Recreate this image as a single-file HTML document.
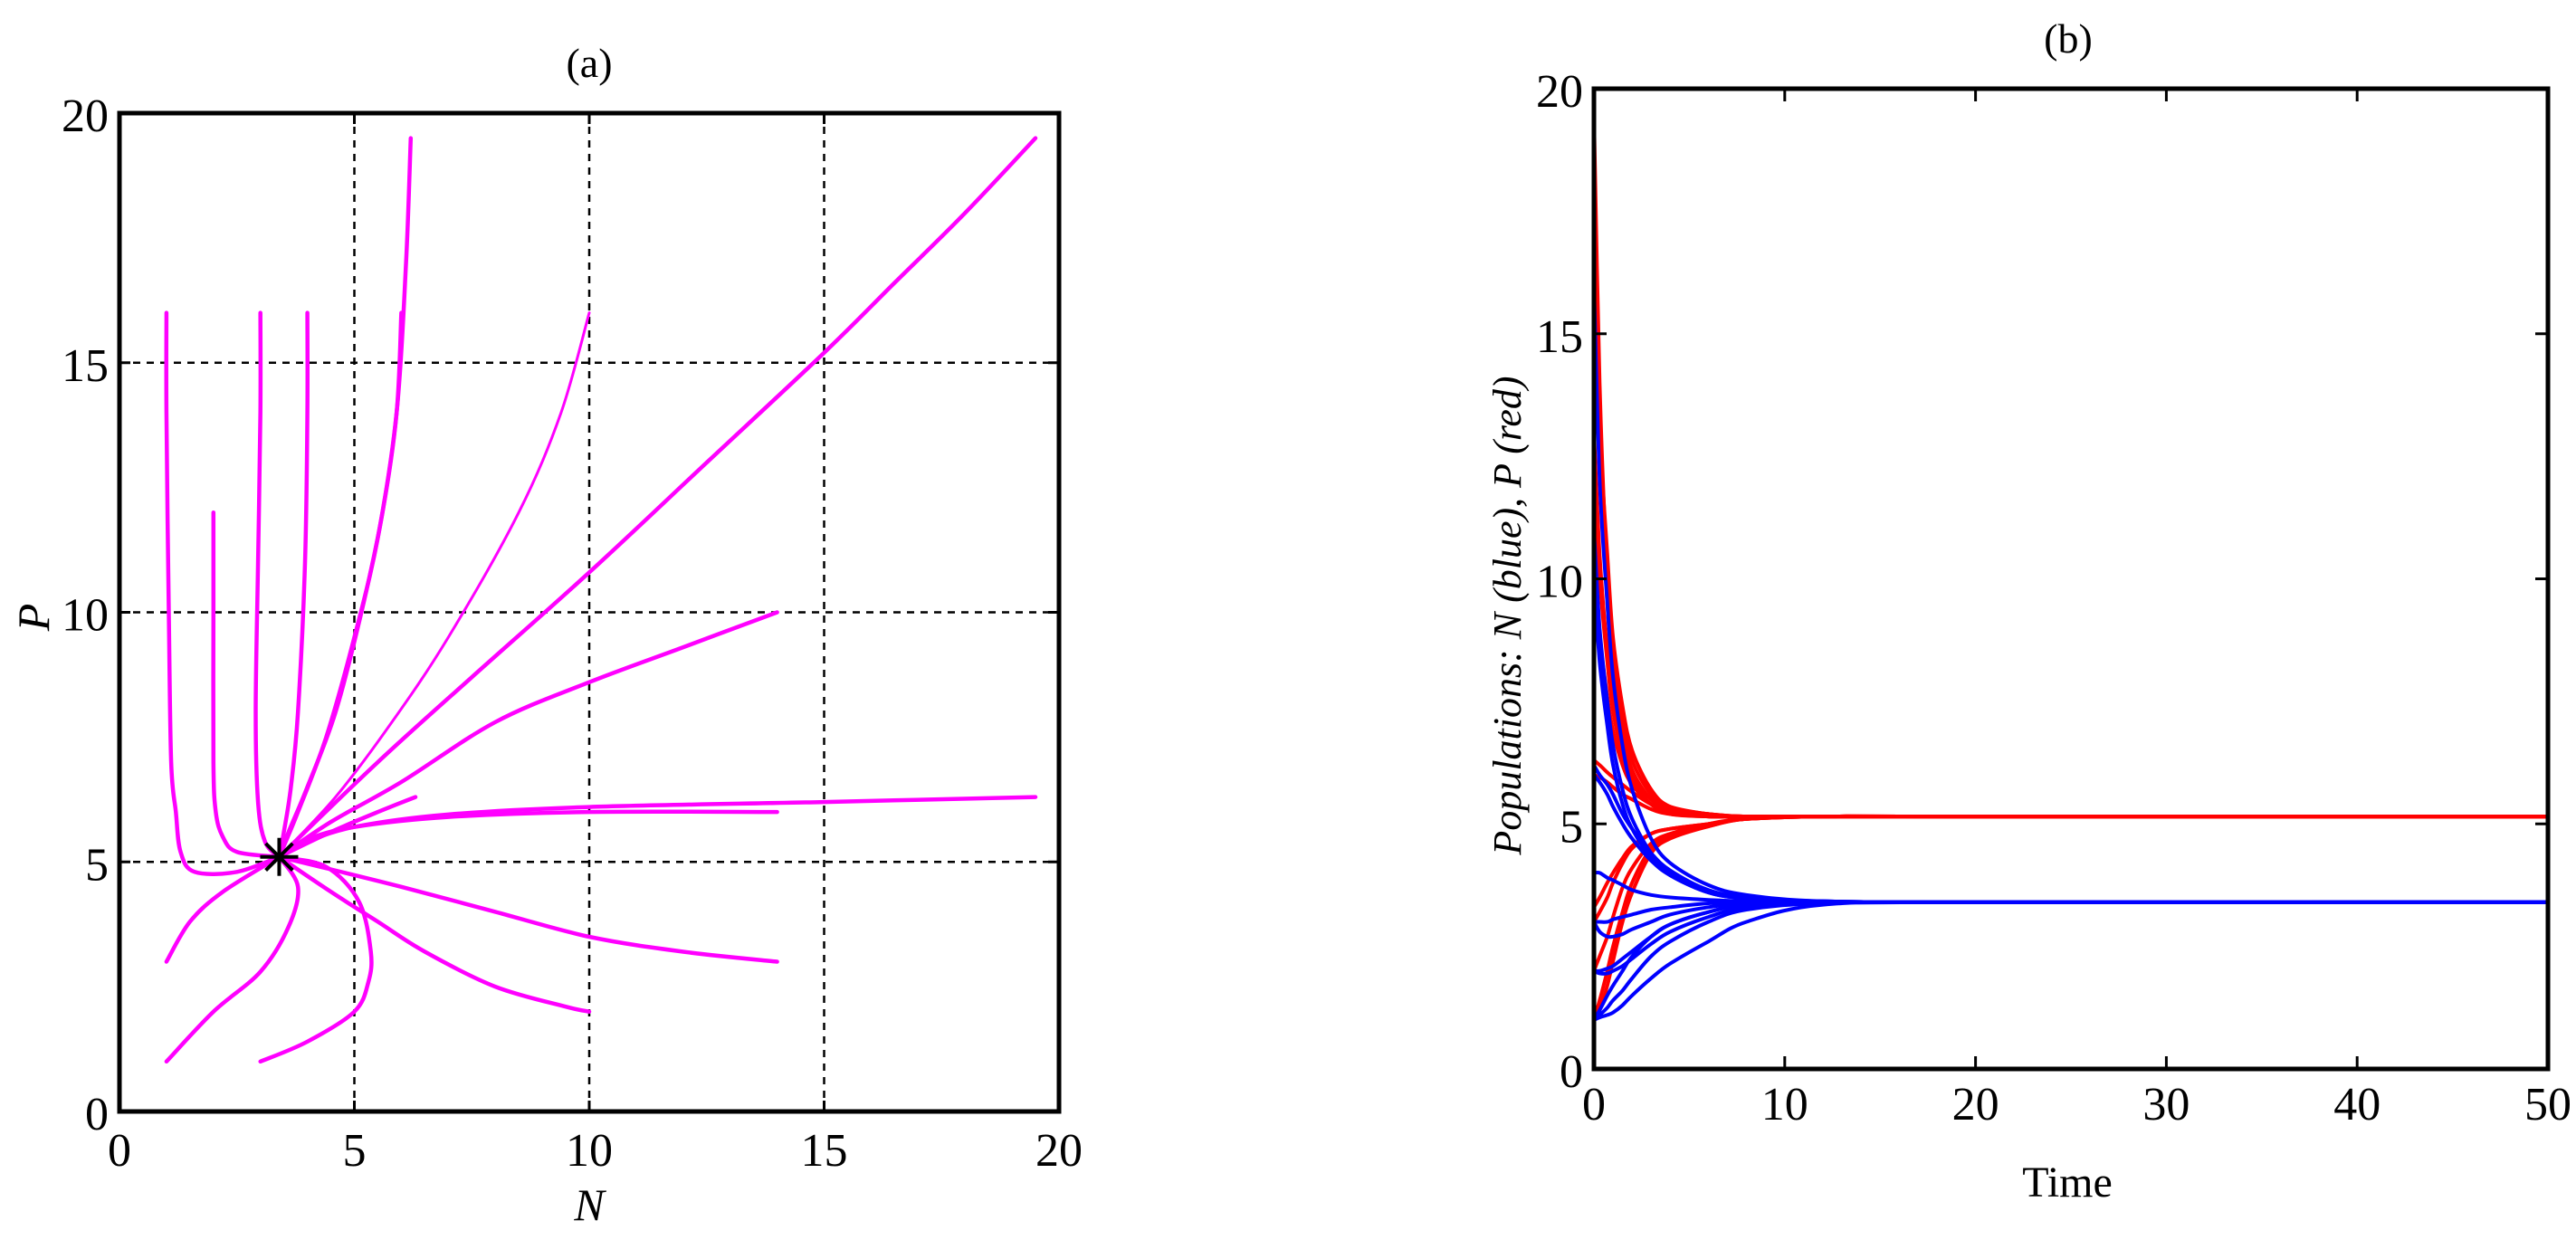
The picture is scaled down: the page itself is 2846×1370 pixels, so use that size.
<!DOCTYPE html>
<html><head><meta charset="utf-8"><style>
html,body{margin:0;padding:0;background:#fff}
svg{display:block}
text{font-family:"Liberation Serif",serif;fill:#000}
</style></head><body>
<svg id="fig" width="2846" height="1370" viewBox="0 0 2846 1370" xmlns="http://www.w3.org/2000/svg">
<g id="pa"></g>
<g id="pb"></g>
</svg>
<script>
// ---------- Panel (a) data: phase-plane trajectories (N, P) ----------
const trajN = [
 [1,1,1.05,1.1,1.2,1.3,1.6,2.5,3.4],
 [2,2,2,2.05,2.2,2.5,3.4],
 [3,3,2.95,2.9,2.95,3.1,3.4],
 [4,4,3.95,3.8,3.65,3.5,3.4],
 [6.2,6.1,5.9,5.5,5.0,4.4,3.8,3.4],
 [6,5.9,5.6,5.15,4.6,4.0,3.6,3.4],
 [10,9.4,8.5,7.0,5.8,4.6,3.4],
 [19.5,18,16.5,15,12.5,10,7.5,5.5,3.4],
 [14,12,10,8,6,4.5,3.4],
 [6.3,5.5,4.5,3.4],
 [19.5,15,10,7,5,4,3.4],
 [14,10,7,5,4,3.4],
 [14,12,10,8,6,4.5,3.4],
 [10,9.5,8,6.5,5.5,4.5,3.4],
 [3,4,5,5.3,5.35,5.1,4.4,3.4],
 [1,2,3,3.6,3.8,3.4],
 [1,1.5,2.2,3.4]
];
const trajP = [
 [16,14,10,7,6,5.2,4.8,4.8,5.1],
 [12,10,7,6,5.5,5.2,5.1],
 [16,14,11,8,6.2,5.4,5.1],
 [16,14,11,8,6.5,5.6,5.1],
 [19.5,17,14,11.5,9.5,7.5,6,5.1],
 [16,14,12,10,8,6.5,5.6,5.1],
 [16,14,12,9.5,7.8,6.3,5.1],
 [19.5,18,16.6,15.2,13,10.8,8.7,7,5.1],
 [10,9.3,8.6,7.8,6.6,5.8,5.1],
 [6.3,6,5.6,5.1],
 [6.3,6.2,6.1,5.95,5.7,5.4,5.1],
 [6,6,5.9,5.7,5.45,5.1],
 [3,3.2,3.5,4,4.5,4.85,5.1],
 [2,2.1,2.5,3.2,3.8,4.4,5.1],
 [1,1.4,2,2.6,3.2,4.2,4.9,5.1],
 [1,2,2.8,3.7,4.5,5.1],
 [3,3.8,4.4,5.1]
];
const eqN = 3.4, eqP = 5.1;
const aTicks = [0,5,10,15,20];
const aGrid = [5,10,15];

// ---------- Panel (b) data: time series ----------
const times = [0,0.3,0.7,1,1.5,2,3,4,6,8,12,20,50];
const seriesP = [
 [19.5,14,10,8.5,7.2,6.3,5.6,5.35,5.2,5.15,5.15,5.15,5.15],
 [16,12.5,9.5,8,6.9,6.1,5.5,5.3,5.2,5.15,5.15,5.15,5.15],
 [16,13,10.5,8.8,7.4,6.5,5.7,5.35,5.2,5.15,5.15,5.15,5.15],
 [13,10.5,8.5,7.5,6.6,6,5.5,5.3,5.2,5.15,5.15,5.15,5.15],
 [12,10,8.3,7.3,6.4,5.9,5.4,5.25,5.15,5.15,5.15,5.15,5.15],
 [10,8.8,7.6,6.9,6.2,5.8,5.4,5.2,5.15,5.15,5.15,5.15,5.15],
 [6.3,6.2,6.05,5.95,5.8,5.65,5.4,5.25,5.15,5.15,5.15,5.15,5.15],
 [6,5.95,5.85,5.75,5.6,5.5,5.3,5.2,5.15,5.15,5.15,5.15,5.15],
 [3,3.2,3.5,3.8,4.2,4.5,4.8,4.9,5.0,5.1,5.15,5.15,5.15],
 [3.3,3.5,3.8,4.0,4.3,4.55,4.8,4.9,5.0,5.1,5.15,5.15,5.15],
 [2,2.3,2.7,3.1,3.7,4.1,4.6,4.8,5.0,5.1,5.15,5.15,5.15],
 [1,1.4,2.0,2.5,3.2,3.8,4.5,4.75,4.95,5.1,5.15,5.15,5.15],
 [1,1.2,1.7,2.2,3.0,3.6,4.4,4.7,4.95,5.1,5.15,5.15,5.15]
];
const seriesN = [
 [16,12,9.5,8,6.6,5.7,4.7,4.2,3.75,3.55,3.42,3.4,3.4],
 [11,9,7.5,6.6,5.7,5.1,4.4,4.0,3.65,3.5,3.42,3.4,3.4],
 [10,8.3,7,6.2,5.4,4.9,4.3,3.95,3.6,3.48,3.42,3.4,3.4],
 [6.2,6,5.8,5.6,5.2,4.9,4.4,4.05,3.65,3.5,3.42,3.4,3.4],
 [6,5.85,5.6,5.35,5,4.7,4.25,3.95,3.6,3.48,3.42,3.4,3.4],
 [4,4,3.9,3.85,3.75,3.65,3.55,3.5,3.45,3.42,3.4,3.4,3.4],
 [3,3,3,3.05,3.1,3.15,3.25,3.3,3.38,3.4,3.4,3.4,3.4],
 [3,2.8,2.7,2.7,2.75,2.85,3.0,3.15,3.3,3.38,3.4,3.4,3.4],
 [2,2,2.05,2.1,2.25,2.4,2.7,2.95,3.2,3.35,3.4,3.4,3.4],
 [2,1.95,1.95,2,2.1,2.25,2.55,2.8,3.1,3.3,3.4,3.4,3.4],
 [1,1.2,1.5,1.7,2.0,2.3,2.7,2.95,3.2,3.35,3.4,3.4,3.4],
 [1,1.05,1.1,1.15,1.3,1.5,1.85,2.15,2.6,3.0,3.35,3.4,3.4],
 [1,1.1,1.25,1.4,1.6,1.85,2.3,2.6,3.0,3.25,3.38,3.4,3.4]
];
const bXTicks = [0,10,20,30,40,50];
const bYTicks = [0,5,10,15,20];

const NS = "http://www.w3.org/2000/svg";
function mk(parent, tag, attrs){
  const e = document.createElementNS(NS, tag);
  for (const k in attrs) e.setAttribute(k, attrs[k]);
  parent.appendChild(e); return e;
}
function smoothPath(pts){
  let d = "M"+pts[0][0].toFixed(1)+","+pts[0][1].toFixed(1);
  for (let i=0;i<pts.length-1;i++){
    const p0=pts[Math.max(0,i-1)], p1=pts[i], p2=pts[i+1], p3=pts[Math.min(pts.length-1,i+2)];
    const c1=[p1[0]+(p2[0]-p0[0])/6, p1[1]+(p2[1]-p0[1])/6];
    const c2=[p2[0]-(p3[0]-p1[0])/6, p2[1]-(p3[1]-p1[1])/6];
    d+=" C"+c1[0].toFixed(1)+","+c1[1].toFixed(1)+" "+c2[0].toFixed(1)+","+c2[1].toFixed(1)+" "+p2[0].toFixed(1)+","+p2[1].toFixed(1);
  }
  return d;
}

// ---------- Panel (a) ----------
(function(){
  const g = document.getElementById('pa');
  const L=132,R=1170,T=125,B=1228;
  const sx = v => L + (v/20)*(R-L);
  const sy = v => B - (v/20)*(B-T);
  aGrid.forEach(v=>{
    const gx = mk(g,'line',{x1:sx(v),x2:sx(v),y1:T,y2:B,stroke:'#000','stroke-width':2.5,'stroke-dasharray':'8,7'});
    
    
    const gy = mk(g,'line',{x1:L,x2:R,y1:sy(v),y2:sy(v),stroke:'#000','stroke-width':2.5,'stroke-dasharray':'8,7'});
    
    
  });
  trajN.forEach((ns,i)=>{
    const pts = ns.map((n,j)=>[sx(n), sy(trajP[i][j])]);
    const p = mk(g,'path',{d:smoothPath(pts),fill:'none',stroke:'#ff00ff','stroke-width':(i===6?3:4.5),'stroke-linecap':'round','stroke-linejoin':'round'});
    
    
  });
  const cx=sx(eqN), cy=sy(eqP);
  const star = mk(g,'g',{stroke:'#000','stroke-width':4});
  
  
  for(let k=0;k<4;k++){
    const a=k*Math.PI/4, r=21;
    mk(star,'line',{x1:cx-r*Math.cos(a),y1:cy-r*Math.sin(a),x2:cx+r*Math.cos(a),y2:cy+r*Math.sin(a)});
  }
  const fr = mk(g,'rect',{x:L,y:T,width:R-L,height:B-T,fill:'none',stroke:'#000','stroke-width':5});
  
  
  aTicks.forEach(v=>{
    mk(g,'line',{x1:sx(v),x2:sx(v),y1:B,y2:B-12,stroke:'#000','stroke-width':3});
    mk(g,'line',{x1:sx(v),x2:sx(v),y1:T,y2:T+12,stroke:'#000','stroke-width':3});
    mk(g,'line',{x1:L,x2:L+12,y1:sy(v),y2:sy(v),stroke:'#000','stroke-width':3});
    mk(g,'line',{x1:R,x2:R-12,y1:sy(v),y2:sy(v),stroke:'#000','stroke-width':3});
    const tx = mk(g,'text',{x:sx(v),y:B+60,'text-anchor':'middle','font-size':52});
    tx.textContent=v;
    
    
    const ty = mk(g,'text',{x:L-12,y:sy(v)+20,'text-anchor':'end','font-size':52});
    ty.textContent=v;
    
    
  });
  const t = mk(g,'text',{x:(L+R)/2,y:85,'text-anchor':'middle','font-size':46});
  t.textContent='(a)';
  
  
  const xl = mk(g,'text',{x:(L+R)/2,y:1348,'text-anchor':'middle','font-size':50,'font-style':'italic'});
  xl.textContent='N';
  
  
  const yl = mk(g,'text',{x:0,y:0,'text-anchor':'middle','font-size':50,'font-style':'italic',transform:'translate(54,682) rotate(-90)'});
  yl.textContent='P';
  
  
})();

// ---------- Panel (b) ----------
(function(){
  const g = document.getElementById('pb');
  const L=1761,R=2815,T=98,B=1181;
  const sx = v => L + (v/50)*(R-L);
  const sy = v => B - (v/20)*(B-T);
  seriesP.forEach((s,i)=>{
    const pts = s.map((v,j)=>[sx(times[j]), sy(v)]);
    const p = mk(g,'path',{d:smoothPath(pts),fill:'none',stroke:'#ff0000','stroke-width':4,'stroke-linejoin':'round'});
    
    
  });
  seriesN.forEach((s,i)=>{
    const pts = s.map((v,j)=>[sx(times[j]), sy(v)]);
    const p = mk(g,'path',{d:smoothPath(pts),fill:'none',stroke:'#0000ff','stroke-width':4,'stroke-linejoin':'round'});
    
    
  });
  const fr = mk(g,'rect',{x:L,y:T,width:R-L,height:B-T,fill:'none',stroke:'#000','stroke-width':5});
  
  
  bXTicks.forEach(v=>{
    mk(g,'line',{x1:sx(v),x2:sx(v),y1:B,y2:B-14,stroke:'#000','stroke-width':3});
    mk(g,'line',{x1:sx(v),x2:sx(v),y1:T,y2:T+14,stroke:'#000','stroke-width':3});
    const tx = mk(g,'text',{x:sx(v),y:B+56,'text-anchor':'middle','font-size':52});
    tx.textContent=v;
    
    
  });
  bYTicks.forEach(v=>{
    mk(g,'line',{x1:L,x2:L+14,y1:sy(v),y2:sy(v),stroke:'#000','stroke-width':3});
    mk(g,'line',{x1:R,x2:R-14,y1:sy(v),y2:sy(v),stroke:'#000','stroke-width':3});
    const ty = mk(g,'text',{x:L-12,y:sy(v)+20,'text-anchor':'end','font-size':52});
    ty.textContent=v;
    
    
  });
  const t = mk(g,'text',{x:2285,y:58,'text-anchor':'middle','font-size':46});
  t.textContent='(b)';
  
  
  const xl = mk(g,'text',{x:2284,y:1322,'text-anchor':'middle','font-size':48});
  xl.textContent='Time';
  
  
  const yl = mk(g,'text',{x:0,y:0,'text-anchor':'middle','font-size':44,'font-style':'italic',transform:'translate(1680,680) rotate(-90)'});
  yl.textContent='Populations: N (blue), P (red)';
  
  
})();
</script>
</body></html>
